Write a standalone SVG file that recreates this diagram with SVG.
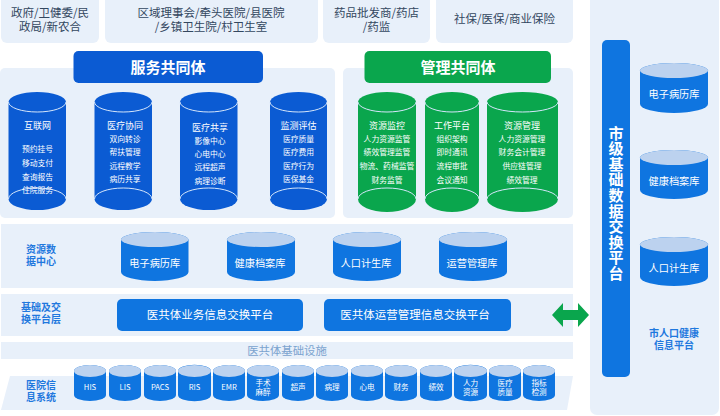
<svg xmlns="http://www.w3.org/2000/svg" width="720" height="416" viewBox="0 0 720 416">
<style>
text{font-family:"Noto Sans CJK SC","Noto Sans",sans-serif;text-anchor:middle}
.p{fill:#e8f0fa}
.top{font-size:11.5px;fill:#33475f}
.tb{fill:#0b5bd3}.tg{fill:#0aa64d}
.ttl{font-size:15px;font-weight:700;fill:#fff}
.cb{fill:#0b5bd3}.cg{fill:#0aa64d}.cm{fill:#0f75e0}
.arc{fill:none;stroke:#d5e6fb;stroke-width:1}
.lid{fill:#bcd2ef}
.h{font-size:9px;fill:#fff}
.i{font-size:7.8px;fill:#fff}
.db{font-size:10.2px;fill:#fff}
.ex{font-size:11.5px;fill:#fff}
.lbl{font-size:10px;font-weight:700;fill:#1f78de}
.s{font-size:7.6px;fill:#fff}
.bar{fill:#0f75e0}
.vert{font-size:15px;font-weight:700;fill:#fff;writing-mode:vertical-rl;text-anchor:start;letter-spacing:.6px}
</style>
<g id="top-boxes">
<g id="top1"><rect class="p" x="1" y="-8" width="98" height="51" rx="6"/><text class="top"><tspan x="50" y="17">政府/卫健委/民</tspan><tspan x="50" y="31">政局/新农合</tspan></text></g>
<g id="top2"><rect class="p" x="105" y="-8" width="213" height="51" rx="6"/><text class="top"><tspan x="211" y="17">区域理事会/牵头医院/县医院</tspan><tspan x="211" y="31">/乡镇卫生院/村卫生室</tspan></text></g>
<g id="top3"><rect class="p" x="323" y="-8" width="107" height="51" rx="6"/><text class="top"><tspan x="376.500" y="17">药品批发商/药店</tspan><tspan x="376.500" y="31">/药监</tspan></text></g>
<g id="top4"><rect class="p" x="436" y="-8" width="137" height="51" rx="6"/><text class="top" x="504.500" y="23">社保/医保/商业保险</text></g>
</g>
<g id="service">
<rect class="p" x="0" y="68" width="335" height="150" rx="5"/>
<rect class="tb" x="73.500" y="51" width="189.500" height="32" rx="5"/>
<text class="ttl" x="168" y="72.500">服务共同体</text>
<g id="s1"><path class="cb" d="M8.500 102A28.750 10 0 0 1 66 102V199A28.750 11 0 0 1 8.500 199Z"/><path class="arc" d="M8.500 102A28.750 10 0 0 0 66 102M8.500 199A28.750 11 0 0 1 66 199"/>
<text class="h" x="37.500" y="129">互联网</text><text class="i" x="37.500" y="152">预约挂号</text><text class="i" x="37.500" y="166">移动支付</text><text class="i" x="37.500" y="179.500">查询报告</text><text class="i" x="37.500" y="193">住院服务</text></g>
<g id="s2"><path class="cb" d="M94.500 102A28.750 10 0 0 1 152 102V199A28.750 11 0 0 1 94.500 199Z"/><path class="arc" d="M94.500 102A28.750 10 0 0 0 152 102M94.500 199A28.750 11 0 0 1 152 199"/>
<text class="h" x="125" y="129">医疗协同</text><text class="i" x="125" y="141.500">双向转诊</text><text class="i" x="125" y="155">帮扶管理</text><text class="i" x="125" y="168.500">远程教学</text><text class="i" x="125" y="182">病历共享</text></g>
<g id="s3"><path class="cb" d="M180 102A28.750 10 0 0 1 237.500 102V199A28.750 11 0 0 1 180 199Z"/><path class="arc" d="M180 102A28.750 10 0 0 0 237.500 102M180 199A28.750 11 0 0 1 237.500 199"/>
<text class="h" x="210" y="131">医疗共享</text><text class="i" x="210" y="143.500">影像中心</text><text class="i" x="210" y="157">心电中心</text><text class="i" x="210" y="170">远程超声</text><text class="i" x="210" y="184">病理诊断</text></g>
<g id="s4"><path class="cb" d="M270 102A28.500 10 0 0 1 327 102V199A28.500 11 0 0 1 270 199Z"/><path class="arc" d="M270 102A28.500 10 0 0 0 327 102M270 199A28.500 11 0 0 1 327 199"/>
<text class="h" x="298.500" y="129">监测评估</text><text class="i" x="298.500" y="141.500">医疗质量</text><text class="i" x="298.500" y="155">医疗费用</text><text class="i" x="298.500" y="168.500">医疗行为</text><text class="i" x="298.500" y="182">医保基金</text></g>
</g>
<g id="management">
<rect class="p" x="343" y="68" width="230" height="150" rx="5"/>
<rect class="tg" x="364.500" y="51" width="186.500" height="32" rx="5"/>
<text class="ttl" x="458" y="72.500">管理共同体</text>
<g id="m1"><path class="cg" d="M358 102A29 10 0 0 1 416 102V199A29 13 0 0 1 358 199Z"/><path class="arc" d="M358 102A29 10 0 0 0 416 102M358 199A29 11 0 0 1 416 199"/>
<text class="h" x="387" y="129">资源监控</text><text class="i" x="387" y="141.500">人力资源监管</text><text class="i" x="387" y="155">绩效管理监管</text><text class="i" x="387" y="169">物流、药械监管</text><text class="i" x="387" y="182.500">财务监管</text></g>
<g id="m2"><path class="cg" d="M425 102A27 10 0 0 1 479 102V199A27 13 0 0 1 425 199Z"/><path class="arc" d="M425 102A27 10 0 0 0 479 102M425 199A27 11 0 0 1 479 199"/>
<text class="h" x="452" y="129">工作平台</text><text class="i" x="452" y="141.500">组织架构</text><text class="i" x="452" y="155">即时通讯</text><text class="i" x="452" y="169">流程审批</text><text class="i" x="452" y="182.500">会议通知</text></g>
<g id="m3"><path class="cg" d="M487 102A35.500 10 0 0 1 558 102V199A35.500 13 0 0 1 487 199Z"/><path class="arc" d="M487 102A35.500 10 0 0 0 558 102M487 199A35.500 11 0 0 1 558 199"/>
<text class="h" x="522" y="129">资源管理</text><text class="i" x="522" y="141.500">人力资源管理</text><text class="i" x="522" y="155">财务会计管理</text><text class="i" x="522" y="169">供应链管理</text><text class="i" x="522" y="182.500">绩效管理</text></g>
</g>
<g id="resource">
<rect class="p" x="1" y="224" width="572" height="64"/>
<text class="lbl"><tspan x="41" y="253">资源数</tspan><tspan x="41" y="265">据中心</tspan></text>
<g id="r1"><path class="cm" d="M121 239.500A33.750 7.500 0 0 1 188.500 239.500V272A33.750 9 0 0 1 121 272Z"/><ellipse class="lid" cx="154.750" cy="239.500" rx="33.750" ry="7.500"/><text class="db" x="154.750" y="267">电子病历库</text></g>
<g id="r2"><path class="cm" d="M227 239.500A34 7.500 0 0 1 295 239.500V272A34 9 0 0 1 227 272Z"/><ellipse class="lid" cx="261" cy="239.500" rx="34" ry="7.500"/><text class="db" x="260" y="267">健康档案库</text></g>
<g id="r3"><path class="cm" d="M333 239.500A34 7.500 0 0 1 401 239.500V272A34 9 0 0 1 333 272Z"/><ellipse class="lid" cx="367" cy="239.500" rx="34" ry="7.500"/><text class="db" x="366" y="267">人口计生库</text></g>
<g id="r4"><path class="cm" d="M439 239.500A34 7.500 0 0 1 507 239.500V272A34 9 0 0 1 439 272Z"/><ellipse class="lid" cx="473" cy="239.500" rx="34" ry="7.500"/><text class="db" x="472" y="267">运营管理库</text></g>
</g>
<g id="exchange">
<rect class="p" x="1" y="294" width="572" height="42"/>
<text class="lbl"><tspan x="41" y="311">基础及交</tspan><tspan x="41" y="323">换平台层</tspan></text>
<g id="e1"><rect class="cm" x="117" y="299" width="186" height="32" rx="5"/><text class="ex" x="210" y="319">医共体业务信息交换平台</text></g>
<g id="e2"><rect class="cm" x="324" y="299" width="187" height="32" rx="5"/><text class="ex" x="415" y="319">医共体运营管理信息交换平台</text></g>
</g>
<g id="infrastructure">
<rect class="p" x="1" y="342" width="572" height="17"/>
<text style="font-size:11.4px;fill:#7ba3cf" x="287" y="354.500">医共体基础设施</text>
</g>
<g id="hospital">
<path class="p" d="M10 376H573L567 410H1Z"/>
<text class="lbl"><tspan x="41" y="389">医院信</tspan><tspan x="41" y="401">息系统</tspan></text>
<g id="h1"><path class="cm" d="M74 371A16 6 0 0 1 106 371V395A16 6 0 0 1 74 395Z"/><ellipse class="lid" cx="90" cy="371" rx="16" ry="6"/><text class="s" x="90" y="389.500">HIS</text></g>
<g id="h2"><path class="cm" d="M109 371A16 6 0 0 1 141 371V395A16 6 0 0 1 109 395Z"/><ellipse class="lid" cx="125" cy="371" rx="16" ry="6"/><text class="s" x="125" y="389.500">LIS</text></g>
<g id="h3"><path class="cm" d="M144 371A16 6 0 0 1 176 371V395A16 6 0 0 1 144 395Z"/><ellipse class="lid" cx="160" cy="371" rx="16" ry="6"/><text class="s" x="160" y="389.500">PACS</text></g>
<g id="h4"><path class="cm" d="M178 371A16 6 0 0 1 211 371V395A16 6 0 0 1 178 395Z"/><ellipse class="lid" cx="194.500" cy="371" rx="16.500" ry="6"/><text class="s" x="194.500" y="389.500">RIS</text></g>
<g id="h5"><path class="cm" d="M213 371A16 6 0 0 1 245 371V395A16 6 0 0 1 213 395Z"/><ellipse class="lid" cx="229" cy="371" rx="16" ry="6"/><text class="s" x="229" y="389.500">EMR</text></g>
<g id="h6"><path class="cm" d="M247 371A16 6 0 0 1 279 371V395A16 6 0 0 1 247 395Z"/><ellipse class="lid" cx="263" cy="371" rx="16" ry="6"/><text class="s"><tspan x="263" y="385.500">手术</tspan><tspan x="263" y="395">麻醉</tspan></text></g>
<g id="h7"><path class="cm" d="M282 371A16 6 0 0 1 314 371V395A16 6 0 0 1 282 395Z"/><ellipse class="lid" cx="298" cy="371" rx="16" ry="6"/><text class="s" x="298" y="389.500">超声</text></g>
<g id="h8"><path class="cm" d="M316 371A16 6 0 0 1 348 371V395A16 6 0 0 1 316 395Z"/><ellipse class="lid" cx="332" cy="371" rx="16" ry="6"/><text class="s" x="332" y="389.500">病理</text></g>
<g id="h9"><path class="cm" d="M351 371A16 6 0 0 1 383 371V395A16 6 0 0 1 351 395Z"/><ellipse class="lid" cx="367" cy="371" rx="16" ry="6"/><text class="s" x="367" y="389.500">心电</text></g>
<g id="h10"><path class="cm" d="M385 371A16 6 0 0 1 417 371V395A16 6 0 0 1 385 395Z"/><ellipse class="lid" cx="401" cy="371" rx="16" ry="6"/><text class="s" x="401" y="389.500">财务</text></g>
<g id="h11"><path class="cm" d="M420 371A16 6 0 0 1 452 371V395A16 6 0 0 1 420 395Z"/><ellipse class="lid" cx="436" cy="371" rx="16" ry="6"/><text class="s" x="436" y="389.500">绩效</text></g>
<g id="h12"><path class="cm" d="M454 371A16 6 0 0 1 487 371V395A16 6 0 0 1 454 395Z"/><ellipse class="lid" cx="470.500" cy="371" rx="16.500" ry="6"/><text class="s"><tspan x="470.500" y="385.500">人力</tspan><tspan x="470.500" y="395">资源</tspan></text></g>
<g id="h13"><path class="cm" d="M489 371A16 6 0 0 1 521 371V395A16 6 0 0 1 489 395Z"/><ellipse class="lid" cx="505" cy="371" rx="16" ry="6"/><text class="s"><tspan x="505" y="385.500">医疗</tspan><tspan x="505" y="395">质量</tspan></text></g>
<g id="h14"><path class="cm" d="M523 371A16 6 0 0 1 555 371V395A16 6 0 0 1 523 395Z"/><ellipse class="lid" cx="539" cy="371" rx="16" ry="6"/><text class="s"><tspan x="539" y="385.500">指标</tspan><tspan x="539" y="395">检测</tspan></text></g>
</g>
<g id="city">
<rect class="p" x="590" y="-8" width="129" height="423" rx="7"/>
<g id="city-bar"><rect class="bar" x="602" y="40" width="28" height="337" rx="5"/>
<text class="vert" x="616" y="125.500">市级基础数据交换平台</text></g>
<g id="c1"><path class="cm" d="M640 70.500A34 7.500 0 0 1 708 70.500V104A34 9 0 0 1 640 104Z"/><ellipse class="lid" cx="674" cy="70.500" rx="34" ry="7.500"/><text class="db" x="674" y="98">电子病历库</text></g>
<g id="c2"><path class="cm" d="M640 157.500A34 7.500 0 0 1 708 157.500V190A34 9 0 0 1 640 190Z"/><ellipse class="lid" cx="674" cy="157.500" rx="34" ry="7.500"/><text class="db" x="674" y="185">健康档案库</text></g>
<g id="c3"><path class="cm" d="M640 244.500A34 7.500 0 0 1 708 244.500V277A34 9 0 0 1 640 277Z"/><ellipse class="lid" cx="674" cy="244.500" rx="34" ry="7.500"/><text class="db" x="674" y="272">人口计生库</text></g>
<text class="lbl"><tspan x="674" y="337">市人口健康</tspan><tspan x="674" y="349">信息平台</tspan></text>
</g>
<g id="connectors">
<path fill="#0aa64d" d="M552 315L563 303V310H578V303L589 315L578 327V320H563V327Z"/>
</g>
</svg>
